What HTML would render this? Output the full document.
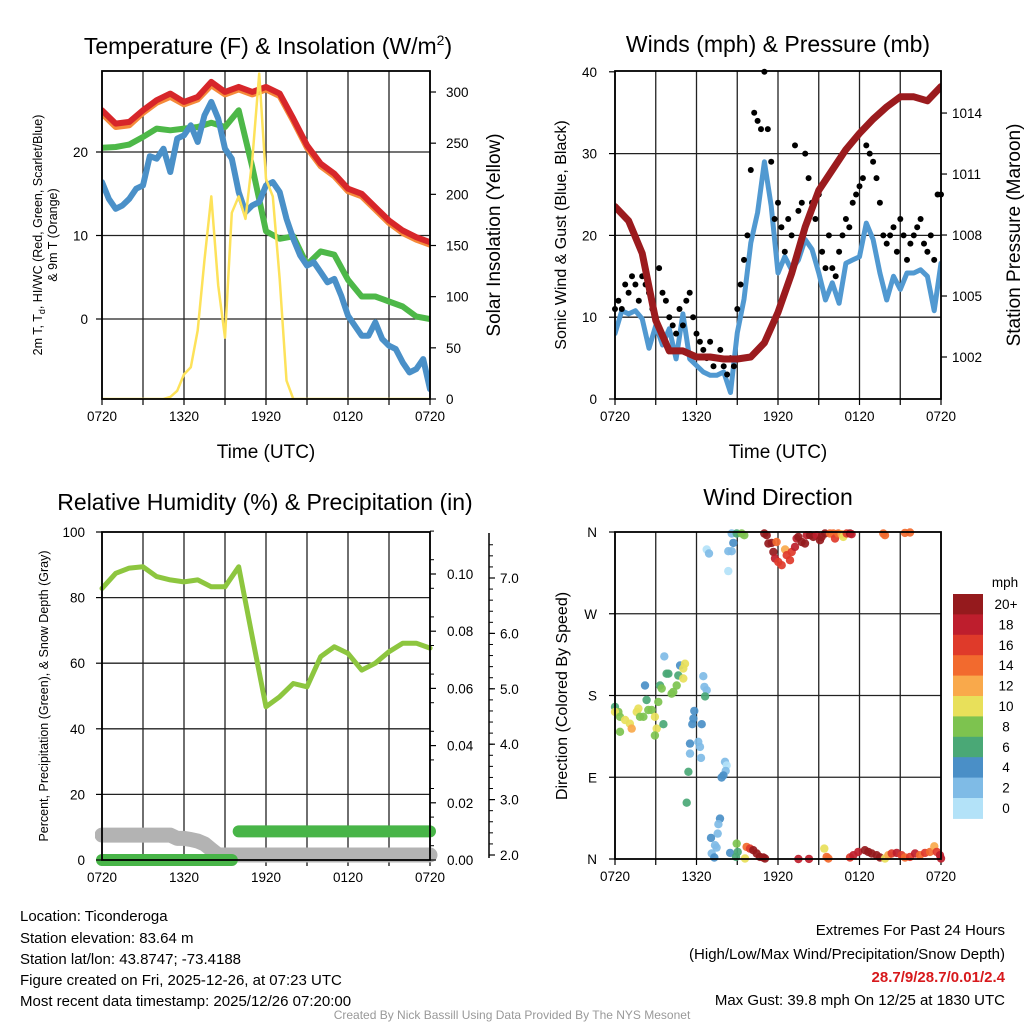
<!DOCTYPE html>
<html><head><meta charset="utf-8"><style>
html,body{margin:0;padding:0;background:#fff;}
svg{display:block;font-family:"Liberation Sans",sans-serif;}
</style></head><body>
<svg id="fig" width="1024" height="1024" viewBox="0 0 1024 1024" xmlns="http://www.w3.org/2000/svg">
<defs>
<clipPath id="c1"><rect x="102" y="71" width="328" height="328"/></clipPath>
<clipPath id="c2"><rect x="615" y="71" width="326" height="328"/></clipPath>
<clipPath id="c3"><rect x="95" y="525" width="345" height="345"/></clipPath>
</defs>
<g id="g1"></g>
<g id="g2"></g>
<g id="g3"></g>
<g id="g4"></g>

<text x="268" y="54" font-size="23" text-anchor="middle">Temperature (F) &amp; Insolation (W/m<tspan font-size="14" dy="-9">2</tspan><tspan dy="9">)</tspan></text>
<text x="778" y="52" font-size="23" text-anchor="middle">Winds (mph) &amp; Pressure (mb)</text>
<text x="265" y="510" font-size="23" text-anchor="middle">Relative Humidity (%) &amp; Precipitation (in)</text>
<text x="778" y="505" font-size="23" text-anchor="middle">Wind Direction</text>

<text x="266" y="458" font-size="19" text-anchor="middle">Time (UTC)</text>
<text x="778" y="458" font-size="19" text-anchor="middle">Time (UTC)</text>

<text transform="translate(42,235) rotate(-90)" font-size="12.5" text-anchor="middle">2m T, T<tspan font-size="9" dy="3">d</tspan><tspan dy="-3">, HI/WC (Red, Green, Scarlet/Blue)</tspan></text>
<text transform="translate(57,235) rotate(-90)" font-size="12.5" text-anchor="middle">&amp; 9m T (Orange)</text>
<text transform="translate(500,235) rotate(-90)" font-size="19" text-anchor="middle">Solar Insolation (Yellow)</text>
<text transform="translate(566,235) rotate(-90)" font-size="16" text-anchor="middle">Sonic Wind &amp; Gust (Blue, Black)</text>
<text transform="translate(1020,235) rotate(-90)" font-size="19" text-anchor="middle">Station Pressure (Maroon)</text>
<text transform="translate(48,696) rotate(-90)" font-size="12.5" text-anchor="middle">Percent, Precipitation (Green), &amp; Snow Depth (Gray)</text>
<text transform="translate(567,696) rotate(-90)" font-size="16" text-anchor="middle">Direction (Colored By Speed)</text>

<g font-size="15">
<text x="20" y="921">Location: Ticonderoga</text>
<text x="20" y="943">Station elevation: 83.64 m</text>
<text x="20" y="964">Station lat/lon: 43.8747; -73.4188</text>
<text x="20" y="985">Figure created on Fri, 2025-12-26, at 07:23 UTC</text>
<text x="20" y="1006">Most recent data timestamp: 2025/12/26 07:20:00</text>
</g>
<g font-size="15" text-anchor="end">
<text x="1005" y="935">Extremes For Past 24 Hours</text>
<text x="1005" y="959">(High/Low/Max Wind/Precipitation/Snow Depth)</text>
<text x="1005" y="982" fill="#d7191c" font-weight="bold">28.7/9/28.7/0.01/2.4</text>
<text x="1005" y="1005">Max Gust: 39.8 mph On 12/25 at 1830 UTC</text>
</g>
<text x="512" y="1019" font-size="12" fill="#999" text-anchor="middle">Created By Nick Bassill Using Data Provided By The NYS Mesonet</text>
</svg>
<script>
// ---- data ----
const timeLabels = ["0720","1320","1920","0120","0720"];
// hourly (0..24 h from 0720 UTC)
const tempRed = [25.0,23.4,23.6,25.0,26.2,27.0,26.0,26.6,28.4,27.2,27.8,27.2,27.8,27.0,24.0,20.8,18.6,17.4,15.6,15.0,13.4,11.8,10.6,9.8,9.2];
const tempOrange = [24.6,23.0,23.2,24.7,25.9,26.6,25.7,26.3,28.0,26.9,27.5,26.9,27.5,26.7,23.7,20.5,18.3,17.1,15.3,14.7,13.1,11.5,10.3,9.5,8.9];
const dewGreen = [20.5,20.6,20.9,21.8,22.8,22.6,22.8,23.0,23.5,23.0,25.0,18.2,10.5,9.6,9.9,6.5,8.1,7.7,4.7,2.7,2.7,2.1,1.5,0.3,0.0];
// half-hourly
const windChillBlue = [16.4,14.4,13.2,13.6,14.4,15.6,16.0,19.5,19.2,20.4,17.6,21.6,22.0,23.2,21.2,24.4,26.0,24.0,20.4,19.2,15.2,12.8,13.6,14.0,16.0,16.4,15.2,12.0,9.6,7.6,6.4,6.8,5.6,4.4,4.8,2.8,0.4,-0.8,-2.0,-2.0,-0.4,-2.4,-3.2,-3.6,-5.2,-6.4,-6.0,-4.8,-8.4];
const solar = [0,0,0,0,0,0,0,0,0,0,2,8,24,31,67,136,198,111,60,182,198,176,234,318,215,198,117,18,0,0,0,0,0,0,0,0,0,0,0,0,0,0,0,0,0,0,0,0,0];
const tempTicks = [0,10,20];
const solarTicks = [0,50,100,150,200,250,300];

const pressure = [1009.4,1008.7,1007.1,1003.8,1002.3,1002.3,1002.0,1002.0,1001.9,1001.9,1002.0,1002.7,1004.2,1006.1,1008.4,1010.2,1011.2,1012.2,1013.0,1013.7,1014.3,1014.8,1014.8,1014.6,1015.3];
const windSpeed = [8.0,10.8,10.4,10.8,9.8,6.2,9.0,6.6,8.6,4.9,10.4,4.9,4.1,3.3,2.9,2.9,3.3,0.8,8.1,12.2,19.1,22.8,29.0,23.6,15.4,17.4,15.8,17.0,19.5,18.3,15.4,12.1,14.2,11.7,16.6,17.0,17.4,21.5,19.5,15.4,12.1,15.0,13.4,15.4,15.4,15.8,15.0,10.8,16.6];
// quarter-hourly gusts
const gusts = [11,12,11,14,13,15,14,12, 15,14,13,11,10,16,13,12, 10,9,8,11,9,12,13,10, 8,7,6,5,7,4,5,6, 4,3,5,4,11,14,17,20, 28,35,34,33,40,33,29,22, 24,21,18,22,20,31,23,24, 30,27,24,22,25,18,16,20, 16,15,18,20,22,21,24,25, 26,27,31,30,29,27,24,20, 19,20,21,18,22,20,17,19, 20,21,22,19,18,20,17,25, 25];
const windTicks = [0,10,20,30,40];
const pressureTicks = [1002,1005,1008,1011,1014];

const rh = [82.8,87.4,89.0,89.4,86.4,85.4,84.8,85.4,83.3,83.3,89.4,68.0,46.7,49.8,53.8,52.8,62.0,65.0,63.0,57.9,60.0,63.5,66.1,66.1,64.6];
// half-hourly
const precip = [0,0,0,0,0,0,0,0,0,0,0,0,0,0,0,0,0,0,0,0,0.01,0.01,0.01,0.01,0.01,0.01,0.01,0.01,0.01,0.01,0.01,0.01,0.01,0.01,0.01,0.01,0.01,0.01,0.01,0.01,0.01,0.01,0.01,0.01,0.01,0.01,0.01,0.01,0.01];
const snow = [2.36,2.36,2.36,2.36,2.36,2.36,2.36,2.36,2.36,2.36,2.36,2.3,2.3,2.28,2.25,2.2,2.1,2.0,2.0,2.0,2.0,2.0,2.0,2.0,2.0,2.0,2.0,2.0,2.0,2.0,2.0,2.0,2.0,2.0,2.0,2.0,2.0,2.0,2.0,2.0,2.0,2.0,2.0,2.0,2.0,2.0,2.0,2.0,2.0];
const rhTicks = [0,20,40,60,80,100];
const precipTicks = [0,0.02,0.04,0.06,0.08,0.10];
const snowTicks = [2,3,4,5,6,7];

const dirHours = [0,0.25,0,0.37,0.37,0.74,1.10,1.23,1.60,1.72,1.84,2.09,2.33,2.45,2.70,2.94,3.07,2.94,3.19,3.56,2.21,3.31,3.44,3.80,3.93,4.17,4.29,4.54,4.66,4.79,5.03,5.15,5.03,3.63,6.50,6.58,6.75,6.63,5.84,5.77,5.69,6.38,6.13,6.26,5.52,5.52,6.33,5.40,5.28,8.10,8.22,8.15,7.98,7.85,7.73,7.61,7.56,7.07,7.36,7.48,7.12,7.31,8.47,8.96,9.03,8.91,9.57,9.69,9.94,10.18,10.43,10.67,10.92,11.04,13.50,14.28,15.41,15.58,15.71,17.30,17.55,17.91,18.40,18.65,18.90,19.26,19.51,19.88,20.12,20.37,20.74,21.10,21.35,21.72,22.09,22.45,22.82,23.19,23.51,23.68,23.93,24.0,6.75,6.92,8.34,8.59,8.71,8.34,8.59,8.96,9.33,9.52,10.99,11.17,11.29,11.53,11.66,11.78,11.90,12.02,12.27,12.52,12.64,12.88,13.01,13.25,13.37,13.50,13.74,13.99,14.11,14.36,14.60,14.85,15.09,15.21,15.46,15.83,16.07,16.20,16.44,16.69,16.81,17.06,17.30,17.42,19.75,19.88,21.35,21.72];
const dirDeg = [167.5,162,162,156.5,140,153,149,143.6,162,165.6,156.5,156.5,175,164,164,156.5,143.6,136,173,148.4,191,191,187.7,204,204,182,184,191,202,213,198.7,215,209.7,223,201.2,189.5,185.8,179,163,154.6,148.4,148.4,129,123.4,127,116,111.3,96,62,107,103,97,92,89.7,44.5,38.3,28,23.2,15.2,12.6,6,1.6,6.7,17,7.8,2.3,0.5,13.3,11.5,9.7,6,2.3,1.6,0.5,0,0.1,11.5,2.3,0.5,1.6,4.2,7.8,9.7,7.8,6,4.2,1.6,0.5,4.2,6,6.7,4.2,1.6,2.3,6,4.2,6.7,7.8,14,7.8,4.2,0.5,340.7,336.3,338.9,338.9,348,317,358.3,358.3,358.3,356.5,358.3,356.5,347.3,348,338,330.8,349,327,323.5,340.7,334.5,329,338,343.6,352.8,354.6,349,347.3,356.5,356.5,354.6,356.5,351,354.6,358.3,358.3,358.3,352.8,358.3,357.6,354.6,358.3,358.3,357.6,358.3,356.5,359,359.4];
const dirSpeed = [6,8,10,8,8,10,10,12,10,10,8,8,6,8,8,10,10,8,8,6,4,6,8,6,6,8,8,8,6,4,10,10,10,2,2,2,2,6,4,4,4,4,2,2,4,2,2,6,6,2,0,2,4,4,4,2,2,4,2,2,2,4,4,8,6,6,10,14,16,20,20,20,20,20,18,18,10,14,14,16,18,18,20,20,20,20,20,10,12,16,18,16,14,16,18,14,16,14,12,16,18,18,0,2,2,2,4,0,2,6,8,8,20,20,20,20,20,18,14,16,16,12,16,16,16,18,18,20,20,20,18,20,20,18,20,20,20,14,14,16,14,12,10,16,20,18,14,14,14,14];
const speedBins = ["0","2","4","6","8","10","12","14","16","18","20+"];
const binColors = ["#b3e2f8","#7fbbe6","#4a8fc7","#4aa876","#7dc34f","#e8e05a","#f9a94b","#f26a2e","#df3a2a","#be1e2d","#951a1d"];

// ---- scales ----
const NS="http://www.w3.org/2000/svg";
function el(tag, attrs, parent){const e=document.createElementNS(NS,tag);for(const k in attrs)e.setAttribute(k,attrs[k]);parent.appendChild(e);return e;}
const tx=h=>102+h*328/24, ty=t=>319-t*8.35, sy=s=>399-s*1.0233;
const wx=h=>615+h*326/24, wy=w=>399-w*8.18, py=p=>357-(p-1002)*20.33;
const rx=h=>102+h*328/24, ry=r=>860-r*3.28, ppy=p=>860-p*2860, sny=s=>855-(s-2)*55.4;
const dx=h=>615+h*326/24, dy=d=>859-d*327/360;

function poly(parent, arr, step, xf, yf, color, w, name, clip){
  const pts=arr.map((v,i)=>xf(i*step).toFixed(1)+","+yf(v).toFixed(1)).join(" ");
  const p=el("polyline",{points:pts,fill:"none",stroke:color,"stroke-width":w,"stroke-linejoin":"round","stroke-linecap":"round"},parent);
  if(clip)p.setAttribute("clip-path","url(#"+clip+")");
  
  
  return p;
}
function frame(parent,x0,y0,x1,y1,xf,hy){
  for(let h=0;h<=24;h+=3){
    const l=el("line",{x1:xf(h),y1:y0,x2:xf(h),y2:y1,stroke:"#222","stroke-width":1.3},parent);
    
    
    const t=el("line",{x1:xf(h),y1:y1,x2:xf(h),y2:y1+6,stroke:"#000","stroke-width":1.2},parent);
    
    
  }
  hy.forEach(y=>{
    const l=el("line",{x1:x0,y1:y,x2:x1,y2:y,stroke:"#222","stroke-width":1.3},parent);
    
    
  });
  timeLabels.forEach((s,i)=>{
    const t=el("text",{x:xf(i*6),y:y1+22,"font-size":13.5,"text-anchor":"middle"},parent);
    t.textContent=s;
    
    
  });
}
function border(parent,x0,y0,x1,y1){
  const r=el("rect",{x:x0,y:y0,width:x1-x0,height:y1-y0,fill:"none",stroke:"#000","stroke-width":1.8},parent);
  
  
}
function yTicks(parent,vals,yf,x,dir,fmt,lx,anchor,name){
  vals.forEach(v=>{
    const t=el("line",{x1:x,y1:yf(v),x2:x+dir*6,y2:yf(v),stroke:"#000","stroke-width":1.2},parent);
    
    
    const s=el("text",{x:lx,y:yf(v)+5,"font-size":13.5,"text-anchor":anchor},parent);
    s.textContent=fmt(v);
    
    
  });
}

// ---- panel 1 ----
const g1=document.getElementById("g1");
frame(g1,102,71,430,399,tx,tempTicks.map(ty));
poly(g1,tempOrange,1,tx,ty,"#f58a3a",6,"temperature-9m-orange-line","c1");
poly(g1,tempRed,1,tx,ty,"#d7262a",6,"temperature-2m-red-line","c1");
poly(g1,dewGreen,1,tx,ty,"#4db848",6,"dewpoint-green-line","c1");
poly(g1,windChillBlue,0.5,tx,ty,"#4a90c8",6,"windchill-blue-line","c1");
poly(g1,solar,0.5,tx,sy,"#fde25a",2.5,"insolation-yellow-line","c1");
border(g1,102,71,430,399);
yTicks(g1,tempTicks,ty,102,-1,v=>String(v),88,"end","temperature-axis");
yTicks(g1,solarTicks,sy,430,1,v=>String(v),446,"start","insolation-axis");

// ---- panel 2 ----
const g2=document.getElementById("g2");
frame(g2,615,71,941,399,wx,[10,20,30].map(wy));
poly(g2,windSpeed,0.5,wx,wy,"#5199d1",5,"wind-speed-blue-line","c2");
gusts.forEach((v,i)=>{
  const c=el("circle",{cx:wx(i*0.25).toFixed(1),cy:wy(v).toFixed(1),r:3,fill:"#000"},g2);
  
  
});
poly(g2,pressure,1,wx,py,"#9b1b1e",7,"pressure-maroon-line","c2");
border(g2,615,71,941,399);
yTicks(g2,windTicks,wy,615,-1,v=>String(v),597,"end","wind-axis");
yTicks(g2,pressureTicks,py,941,1,v=>String(v),952,"start","pressure-axis");

// ---- panel 3 ----
const g3=document.getElementById("g3");
frame(g3,102,532,430,860,rx,[20,40,60,80].map(ry));
poly(g3,snow,0.5,rx,sny,"#b3b3b3",15,"snow-depth-gray-line","c3");
// precip: draw runs of equal value
(function(){let s=0;for(let i=1;i<=precip.length;i++){if(i===precip.length||precip[i]!==precip[s]){
  const l=el("line",{x1:rx(s*0.5),y1:ppy(precip[s]),x2:rx((i-1)*0.5),y2:ppy(precip[s]),stroke:"#48b548","stroke-width":12,"stroke-linecap":"round"},g3);
  
  
  s=i;}}})();
poly(g3,rh,1,rx,ry,"#8dc63f",5,"relative-humidity-line","c3");
border(g3,102,532,430,860);
yTicks(g3,rhTicks,ry,102,-1,v=>String(v),85,"end","humidity-axis");
yTicks(g3,precipTicks,ppy,430,1,v=>v.toFixed(2),447,"start","precipitation-axis");
for(let p=0.005;p<0.115;p+=0.01){const t=el("line",{x1:430,y1:ppy(p),x2:434,y2:ppy(p),stroke:"#000"},g3);}
const sa=el("line",{x1:489,y1:533,x2:489,y2:858,stroke:"#000","stroke-width":1.5},g3);


yTicks(g3,snowTicks,sny,489,1,v=>v.toFixed(1),500,"start","snow-axis");
for(let s=2.2;s<7.8;s+=0.2){const t=el("line",{x1:489,y1:sny(s),x2:493,y2:sny(s),stroke:"#000"},g3);}

// ---- panel 4 ----
const g4=document.getElementById("g4");
frame(g4,615,532,941,859,dx,[90,180,270].map(dy));
dirHours.forEach((h,i)=>{
  const b=Math.min(10,Math.floor(dirSpeed[i]/2));
  const c=el("circle",{cx:dx(h).toFixed(1),cy:dy(dirDeg[i]).toFixed(1),r:4.2,fill:binColors[b],"fill-opacity":0.92},g4);
  
  
});
border(g4,615,532,941,859);
yTicks(g4,[0,90,180,270,360],dy,615,-1,v=>["N","E","S","W","N"][v/90],597,"end","direction-axis");
// colorbar
const cbTop=594, cbH=20.4;
const mph=el("text",{x:1005,y:587,"font-size":13.5,"text-anchor":"middle"},g4);
mph.textContent="mph";


speedBins.forEach((lab,i)=>{
  const k=10-i;
  const r=el("rect",{x:953,y:cbTop+i*cbH,width:30,height:cbH+0.5,fill:binColors[k]},g4);
  
  
  const t=el("text",{x:1006,y:cbTop+i*cbH+15,"font-size":13.5,"text-anchor":"middle"},g4);
  t.textContent=speedBins[k];
  
  
});
</script>
</body></html>
